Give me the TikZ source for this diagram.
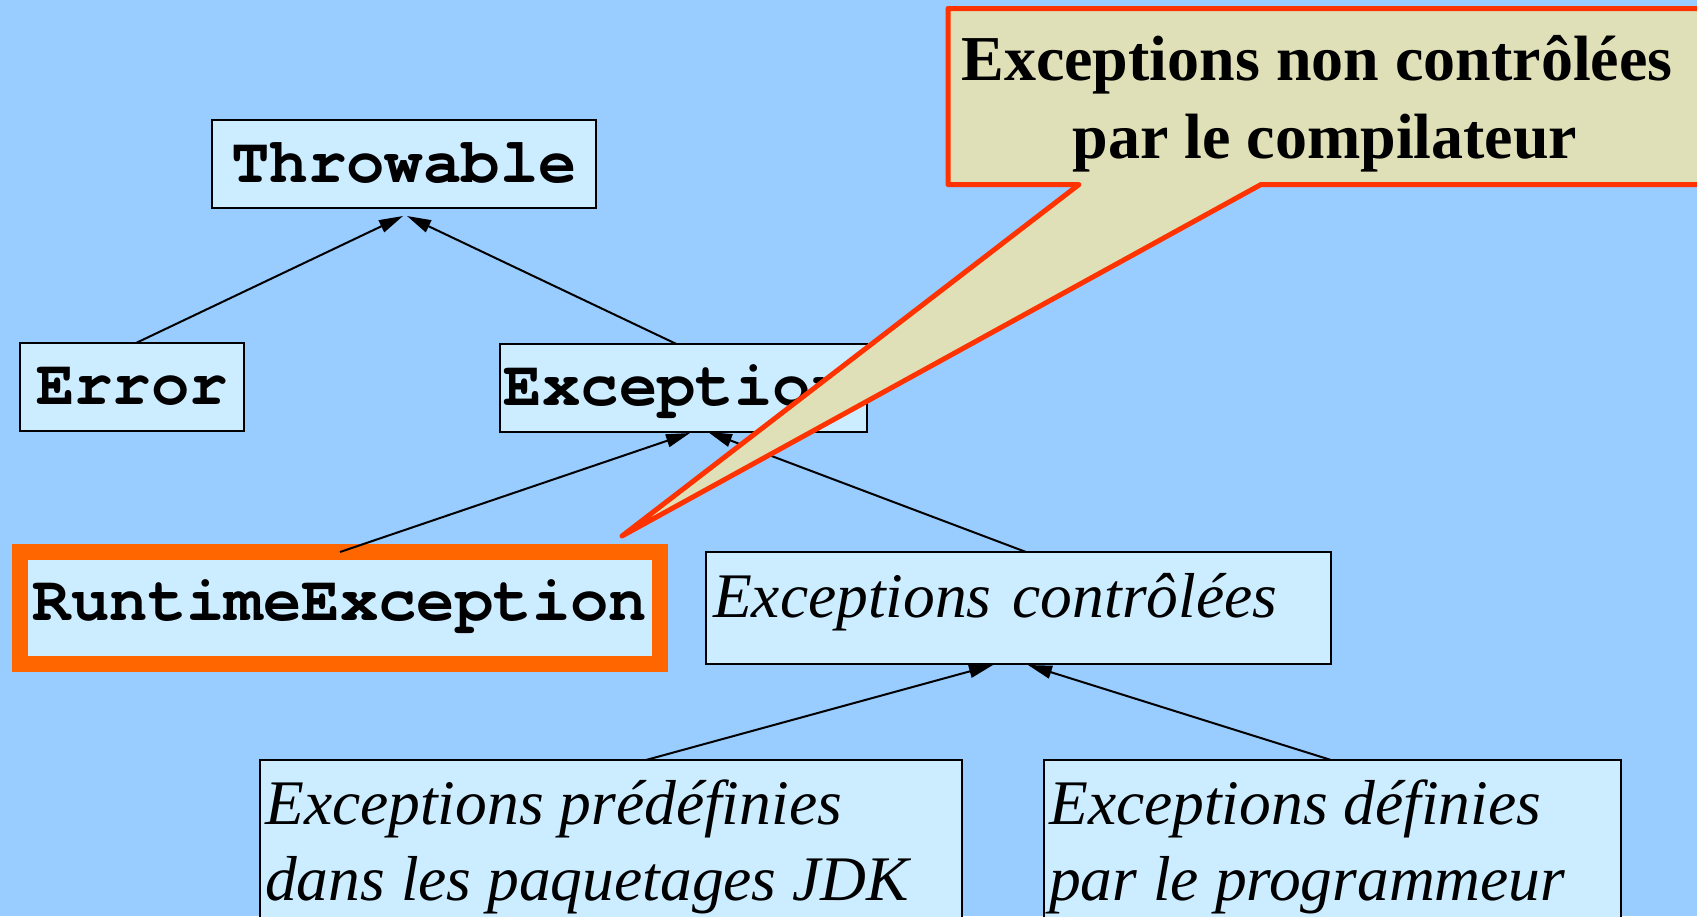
\documentclass[tikz,border=0pt]{standalone}
\usepackage{fontspec}
\setmainfont{Liberation Serif}
\newfontfamily\codefont{TeX Gyre Cursor}
\usetikzlibrary{arrows.meta,calc}
\definecolor{sky}{HTML}{99CCFF}
\definecolor{boxfill}{HTML}{CCECFF}
\definecolor{notefill}{HTML}{E0E0B8}
\definecolor{noteline}{HTML}{FF3300}
\definecolor{hilite}{HTML}{FF6600}

\begin{document}
\begin{tikzpicture}[x=1pt,y=-1pt,
  cls/.style={draw=black, line width=2pt, fill=boxfill, rectangle,
              inner sep=0pt, outer sep=0pt},
  code/.style={font=\codefont\bfseries\fontsize{64}{76}\selectfont, text depth=0pt},
  desc/.style={font=\itshape\fontsize{63.5}{76}\selectfont},
  inherit/.style={draw=black, line width=2pt, -{Triangle[length=24pt,width=13pt]}},
  notetext/.style={font=\bfseries\fontsize{64}{78}\selectfont, align=center, inner sep=0pt},
]
\useasboundingbox (0,0) rectangle (1697,916);
\clip (0,0) rectangle (1697,916);
\fill[sky] (0,0) rectangle (1697,916);

% class hierarchy
\node[cls, code, minimum width=383.5pt, minimum height=88pt, text height=36pt]
  (throwable) at (404,164) {Throwable};
\node[cls, code, minimum width=224pt, minimum height=88pt, text height=34pt]
  (error) at (132,387) {Error};
\node[cls, code, text width=359pt, inner xsep=4pt, align=left,
      minimum height=88pt, text height=34pt]
  (exception) at (683.4,388) {Exception};
\node[cls, code, draw=hilite, line width=16pt, minimum width=640pt,
      minimum height=112pt, text height=24pt]
  (runtime) at (340,608) {RuntimeException};
\node[cls, desc, text width=611pt, inner xsep=7pt, align=left,
      minimum height=112pt, text height=18pt, text depth=0pt]
  (controlled) at (1018.5,608) {Exceptions contrôlées};

% two lower boxes run off the bottom edge; labels sit on their last baseline
\node[cls, minimum width=702pt, minimum height=200pt] (predefined) at (611,860) {};
\node[cls, minimum width=577pt, minimum height=200pt] (userdefined) at (1332.5,860) {};
\node[desc, anchor=base west, align=left, inner sep=0pt] (predefinedtext)
  at ($(predefined.north west)+(5,140)$) {Exceptions prédéfinies\\dans les paquetages JDK};
\node[desc, anchor=base west, align=left, inner sep=0pt] (userdefinedtext)
  at ($(userdefined.north west)+(5,140)$) {Exceptions définies\\par le programmeur};

% inheritance arrows
\draw[inherit] ($(error.north)+(4,0)$) -- ($(throwable.south)+(-1,8)$);
\draw[inherit] ($(exception.north)+(-7,0)$) -- ($(throwable.south)+(3,8)$);
\draw[inherit] (runtime.north) -- ($(exception.south)+(6.6,1)$);
\draw[inherit] ($(controlled.north)+(7.5,0)$) -- ($(exception.south)+(24.6,0)$);
\draw[inherit] ($(predefined.north)+(35,0)$) -- ($(controlled.south)+(-25.5,1)$);
\draw[inherit] ($(userdefined.north)+(-1.5,0)$) -- ($(controlled.south)+(9.5,1)$);

% callout pointing at RuntimeException
\coordinate (tip) at (622,536);
\draw[line width=5pt, draw=noteline, fill=notefill, line join=round]
  (948,8.5) -- (1720,8.5) -- (1720,184.5) -- (1261,184.5) -- (tip)
  -- (1079,184.5) -- (948,184.5) -- cycle;
\node[notetext, anchor=base] (note) at (1325,158)
  {Exceptions non contrôlées\kern16pt\\par le compilateur};
\end{tikzpicture}
\end{document}
